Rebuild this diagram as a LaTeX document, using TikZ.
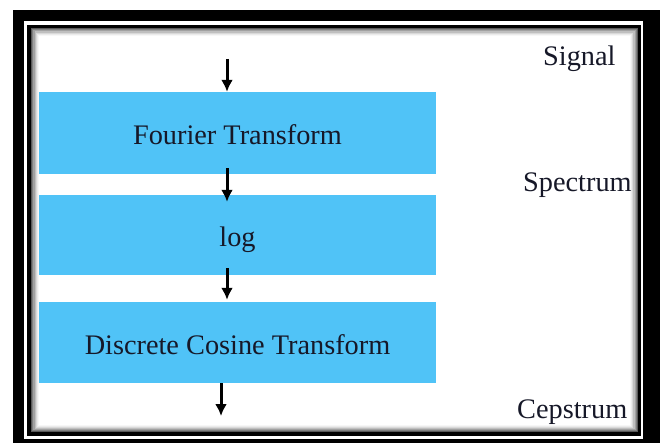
\documentclass[tikz,border=0pt]{standalone}
\usepackage{fontspec}
\setmainfont{Liberation Serif}
\usetikzlibrary{arrows.meta}
\definecolor{boxblue}{RGB}{80,195,247}
\definecolor{txtdark}{RGB}{22,24,40}
\tikzset{
  stagebox/.style={fill=boxblue, draw=none, minimum width=397pt, inner sep=0pt,
    text=txtdark, font=\fontsize{28.3pt}{30pt}\selectfont, text height=23pt, text depth=0pt},
  sidelabel/.style={anchor=base west, inner sep=0pt, text=txtdark, font=\fontsize{28.3pt}{30pt}\selectfont},
  flow/.style={line width=3pt, black, -{Latex[length=12pt,width=12pt]}}
}
\begin{document}
\begin{tikzpicture}[x=1pt,y=-1pt]
\useasboundingbox (0,0) rectangle (660,443);
\clip (0,0) rectangle (660,443);
% frame
\fill[white] (0,0) rectangle (660,443);
\fill[black] (13,10) rectangle (700,500);
\fill[white] (24,21) rectangle (643,439);
\draw[line width=3.5pt, black] (29,26.5) rectangle (639.5,434);
% inner shadow
\draw[line width=1.2pt, black!65] (31.8,28.8) rectangle (637.2,431.7);
\draw[line width=1.2pt, black!50] (32.9,29.9) rectangle (636.1,430.6);
\draw[line width=1.2pt, black!37] (34.0,31.0) rectangle (635.0,429.5);
\draw[line width=1.2pt, black!25] (35.1,32.1) rectangle (633.9,428.4);
\draw[line width=1.2pt, black!15] (36.2,33.2) rectangle (632.8,427.3);
\draw[line width=1.2pt, black!8] (37.3,34.3) rectangle (631.7,426.2);
\draw[line width=1.2pt, black!3] (38.4,35.4) rectangle (630.6,425.1);
% stages
\node[stagebox, minimum height=82pt] (ft) at (237.5,133) {Fourier Transform};
\node[stagebox, minimum height=80pt] (lg) at (237.5,235) {log};
\node[stagebox, minimum height=81pt] (dct) at (237.5,342.5) {Discrete Cosine Transform};
% side labels
\node[sidelabel] (sig) at (543,66) {Signal};
\node[sidelabel] (spec) at (523,192) {Spectrum};
\node[sidelabel] (cep) at (517,418) {Cepstrum};
% arrows
\coordinate (in) at (227,59);
\coordinate (out) at (221,416);
\draw[flow] (in) -- (in |- ft.north);
\draw[flow] ([xshift=-10.5pt,yshift=6pt]ft.south) -- ([xshift=-10.5pt,yshift=-7pt]lg.north);
\draw[flow] ([xshift=-10.5pt,yshift=7pt]lg.south) -- ([xshift=-10.5pt,yshift=2pt]dct.north);
\draw[flow] (out |- dct.south) -- (out);
\end{tikzpicture}
\end{document}
